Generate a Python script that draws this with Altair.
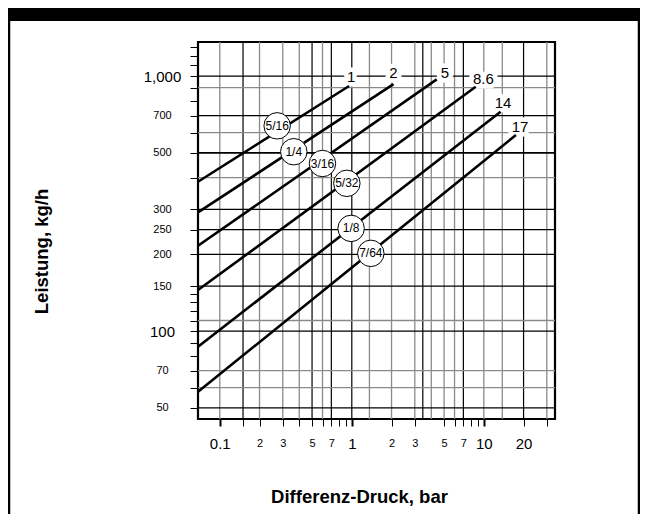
import altair as alt
import pandas as pd

# ---- data ----
x_domain = [0.0684, 34.6]
y_domain = [45.2, 1360]

line_id = ["1", "2", "5", "8.6", "14", "17"]
line_x0 = [0.0684, 0.0684, 0.0684, 0.0684, 0.0684, 0.0684]
line_y0 = [385, 292, 216, 144.8, 86.8, 57.8]
line_x1 = [0.954, 2.07, 4.40, 8.68, 13.4, 17.5]
line_y1 = [914, 930, 971, 908, 724, 587]

label_x = [0.988, 2.07, 5.08, 9.91, 14.0, 18.8]
label_y = [988, 1025, 1025, 971, 786, 633]

orifice = ["5/16", "1/4", "3/16", "5/32", "1/8", "7/64"]
orifice_x = [0.272, 0.3635, 0.5995, 0.917, 0.988, 1.393]
orifice_y = [638, 505, 454, 379.6, 252.7, 201.7]

grid_x_light = [0.1, 0.2, 0.3, 0.4, 0.6, 1.36, 2, 3, 4, 5, 6, 10, 13.8, 30]
grid_x_dark = [0.15, 0.5, 0.7, 1, 3.45, 7, 20]
grid_y_light = [900, 600, 400, 110, 70, 60]
grid_y_dark = [1000, 700, 300, 250, 200, 150, 100, 50]
grid_y_heavy = [500]

x_ticks = [0.1, 0.15, 0.2, 0.3, 0.4, 0.5, 0.6, 0.7, 0.8, 0.9, 1, 2, 3, 5, 6, 7, 8, 9, 10, 20, 30]
x_labels = [0.1, 0.2, 0.3, 0.5, 0.7, 1, 2, 3, 5, 7, 10, 20]
x_big = [0.1, 1, 10, 20]
y_ticks = [1300, 1200, 1100, 1000, 900, 800, 700, 600, 500, 400, 300, 250, 200,
           150, 140, 130, 120, 110, 100, 90, 80, 70, 60, 50]
y_labels = [1000, 700, 500, 300, 250, 200, 150, 100, 70, 50]
y_big = [1000, 100]

FONT = "Liberation Sans"

# ---- tables ----
rows = []
for i, lid in enumerate(line_id):
    rows.append({"id": lid, "x": line_x0[i], "y": line_y0[i]})
    rows.append({"id": lid, "x": line_x1[i], "y": line_y1[i]})
lines_df = pd.DataFrame(rows)
labels_df = pd.DataFrame({"t": line_id, "x": label_x, "y": label_y})
orif_df = pd.DataFrame({"t": orifice, "x": orifice_x, "y": orifice_y})

xs = alt.Scale(type="log", domain=x_domain, nice=False, zero=False)
ys = alt.Scale(type="log", domain=y_domain, nice=False, zero=False)

def lst(v):
    return "[" + ",".join(str(a) for a in v) + "]"

x_axis = alt.Axis(
    values=x_ticks,
    labelExpr=("indexof(" + lst(x_labels) + ", datum.value) < 0 ? '' : "
               "(datum.value == 0.1 ? '0.1' : format(datum.value < 1 ? datum.value * 10 : datum.value, 'd'))"),
    labelFontSize={"condition": {"test": "indexof(" + lst(x_big) + ", datum.value) >= 0", "value": 15}, "value": 11},
    tickWidth={"condition": {"test": "indexof([0.1,1,10], datum.value) >= 0", "value": 2}, "value": 1},
    tickSize=7, tickColor="black", labelColor="black", labelFont=FONT,
    labelPadding=17, labelBaseline="middle", labelOverlap=False, labelFlush=False,
    grid=False, domain=False,
    title="Differenz-Druck, bar", titleFontSize=18.5, titleFontWeight="bold", titleColor="black",
    titleFont=FONT, titleX=161, titleY=77, titleAlign="center", titleBaseline="middle",
)
y_axis = alt.Axis(
    values=y_ticks,
    labelExpr="indexof(" + lst(y_labels) + ", datum.value) < 0 ? '' : format(datum.value, ',')",
    labelFontSize={"condition": {"test": "indexof(" + lst(y_big) + ", datum.value) >= 0", "value": 15}, "value": 11},
    tickSize=8, tickColor="black", labelColor="black", labelFont=FONT,
    labelPadding=28, labelAlign="center", labelBaseline="middle", labelOverlap=False, labelFlush=False,
    grid=False, domain=False,
    title="Leistung, kg/h", titleFontSize=18.5, titleFontWeight="bold", titleColor="black",
    titleFont=FONT, titleX=-157, titleY=209, titleAngle=270, titleAlign="center", titleBaseline="middle",
)

X = alt.X("x:Q", scale=xs, axis=x_axis)
Y = alt.Y("y:Q", scale=ys, axis=y_axis)

def vgrid(vals, color, w):
    return alt.Chart(pd.DataFrame({"x": vals})).mark_rule(color=color, strokeWidth=w).encode(x=X)

def hgrid(vals, color, w):
    return alt.Chart(pd.DataFrame({"y": vals})).mark_rule(color=color, strokeWidth=w).encode(y=Y)

g1 = vgrid(grid_x_light, "#8a8a8a", 1.3)
g2 = vgrid(grid_x_dark, "black", 1.2)
g3 = hgrid(grid_y_light, "#8a8a8a", 1.3)
g4 = hgrid(grid_y_dark, "black", 1.2)
g5 = hgrid(grid_y_heavy, "black", 1.8)

halo = alt.Chart(labels_df).mark_text(
    font=FONT, fontSize=15, fill="white", stroke="white", strokeWidth=9, strokeJoin="round",
    align="center", baseline="middle").encode(x=X, y=Y, text="t:N")

lines = alt.Chart(lines_df).mark_line(color="black", strokeWidth=2.6).encode(
    x=X, y=Y, detail="id:N")

labels = alt.Chart(labels_df).mark_text(
    font=FONT, fontSize=15, color="black", align="center", baseline="middle").encode(
    x=X, y=Y, text="t:N")

circles = alt.Chart(orif_df).mark_point(
    shape="circle", fill="white", stroke="black", strokeWidth=1,
    fillOpacity=1, strokeOpacity=1, size=700).encode(x=X, y=Y)

circle_text = alt.Chart(orif_df).mark_text(
    font=FONT, fontSize=12, color="black", align="center", baseline="middle").encode(
    x=X, y=Y, text="t:N")

deco = pd.DataFrame({"k": [0]})
header = alt.Chart(deco).mark_rect(color="black").encode(
    x=alt.value(-190), x2=alt.value(442), y=alt.value(-34), y2=alt.value(-21))
frame_l = alt.Chart(deco).mark_rule(color="black", strokeWidth=2.5).encode(
    x=alt.value(-189), y=alt.value(-34), y2=alt.value(472))
frame_r = alt.Chart(deco).mark_rule(color="black", strokeWidth=2.5).encode(
    x=alt.value(441), y=alt.value(-34), y2=alt.value(472))

chart = alt.layer(
    g1, g2, g3, g4, g5, halo, lines, circles, circle_text, labels, header, frame_l, frame_r
).properties(
    width=357, height=377,
    padding={"left": 190, "top": 34, "right": 85, "bottom": 95},
    autosize=alt.AutoSizeParams(type="none"),
).configure(font=FONT).configure_axis(grid=False).configure_view(stroke="black", strokeWidth=2.2)

chart.save("out.html", embed_options={"renderer": "svg", "actions": False})
